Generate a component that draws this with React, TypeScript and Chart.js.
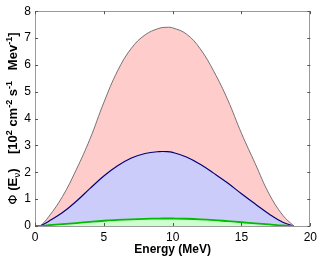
import React, { useEffect, useRef } from "react";
import { Chart, registerables } from "chart.js";

Chart.register(...registerables);

const energy = [0, 0.35, 1, 2, 3, 4, 5, 6, 7, 8, 9, 9.6, 10, 11, 12, 13, 14, 15, 16, 17, 18, 18.8];
const redFlux = [0, 0, 0.35, 1.1, 2.1, 3.25, 4.6, 5.78, 6.62, 7.12, 7.36, 7.4, 7.38, 7.15, 6.6, 5.75, 4.7, 3.45, 2.32, 1.2, 0.4, 0];
const blueFlux = [0, 0, 0.18, 0.5, 0.92, 1.4, 1.86, 2.24, 2.53, 2.7, 2.77, 2.77, 2.74, 2.57, 2.3, 1.96, 1.6, 1.2, 0.82, 0.45, 0.14, 0];
const greenFlux = [0, 0, 0.03, 0.07, 0.11, 0.155, 0.195, 0.225, 0.25, 0.267, 0.277, 0.28, 0.279, 0.27, 0.25, 0.22, 0.18, 0.14, 0.1, 0.06, 0.02, 0];
const xTicks = [0, 5, 10, 15, 20];
const yTicks = [0, 1, 2, 3, 4, 5, 6, 7, 8];

const toPoints = (ys: number[]) => energy.map((x, i) => ({ x, y: ys[i] }));

const frame = {
  id: "frame",
  afterDraw(chart: any) {
    const { ctx, chartArea: a, scales } = chart;
    ctx.save();
    ctx.strokeStyle = "#9a9a9a";
    ctx.lineWidth = 1;
    ctx.beginPath();
    ctx.rect(Math.round(a.left) + 0.5, Math.round(a.top) + 0.5, Math.round(a.right - a.left) - 1, Math.round(a.bottom - a.top));
    ctx.stroke();
    ctx.strokeStyle = "#555";
    ctx.beginPath();
    xTicks.forEach((t) => {
      const x = Math.round(scales.x.getPixelForValue(t)) + 0.5;
      ctx.moveTo(x, a.top);
      ctx.lineTo(x, a.top + 3);
      ctx.moveTo(x, a.bottom);
      ctx.lineTo(x, a.bottom - 3);
    });
    yTicks.forEach((t) => {
      const y = Math.round(scales.y.getPixelForValue(t)) + 0.5;
      ctx.moveTo(a.left, y);
      ctx.lineTo(a.left + 3, y);
      ctx.moveTo(a.right, y);
      ctx.lineTo(a.right - 3, y);
    });
    ctx.stroke();

    // x title
    ctx.fillStyle = "#000";
    ctx.font = "bold 12px 'Liberation Sans', Arial, sans-serif";
    ctx.textAlign = "center";
    ctx.textBaseline = "alphabetic";
    ctx.fillText("Energy (MeV)", (a.left + a.right) / 2, 253);

    // y title (rich text, rotated)
    const B = "bold 13px 'Liberation Sans', Arial, sans-serif";
    const S = "bold 9px 'Liberation Sans', Arial, sans-serif";
    const parts: [string, string, number][] = [
      ["Φ", "13px 'DejaVu Sans', sans-serif", 0],
      [" (E", B, 0],
      ["ν", "9px 'DejaVu Sans', sans-serif", 3],
      [")    [10", B, 0],
      ["2", S, -5],
      [" cm", B, 0],
      ["-2", S, -5],
      [" s", B, 0],
      ["-1", S, -5],
      ["   Mev", B, 0],
      ["-1", S, -5],
      ["]", B, 0],
    ];
    let total = 0;
    parts.forEach(([t, f]) => {
      ctx.font = f;
      total += ctx.measureText(t).width;
    });
    ctx.translate(17, (a.top + a.bottom) / 2);
    ctx.rotate(-Math.PI / 2);
    ctx.textAlign = "left";
    let cx = -total / 2;
    parts.forEach(([t, f, dy]) => {
      ctx.font = f;
      ctx.fillText(t, cx, dy);
      cx += ctx.measureText(t).width;
    });
    ctx.restore();
  },
};

export default function App() {
  const ref = useRef<HTMLCanvasElement>(null);
  useEffect(() => {
    if (!ref.current) return;
    const common = { fill: "origin", pointRadius: 0, tension: 0.4 };
    const chart = new Chart(ref.current, {
      type: "line",
      data: {
        datasets: [
          { ...common, data: toPoints(redFlux), borderColor: "#555555", borderWidth: 0.8, backgroundColor: "#ffcccc", order: 3 },
          { ...common, data: toPoints(blueFlux), borderColor: "#00007a", borderWidth: 1.2, backgroundColor: "#ccccfa", order: 2 },
          { ...common, data: toPoints(greenFlux), borderColor: "#00bb00", borderWidth: 1.8, backgroundColor: "#ccffcc", order: 1 },
        ] as any,
      },
      options: {
        animation: false,
        responsive: false,
        layout: { padding: { top: 6, right: 7, left: 0, bottom: 0 } },
        plugins: { legend: { display: false }, tooltip: { enabled: false } },
        scales: {
          x: {
            type: "linear",
            min: 0,
            max: 20,
            afterFit: (s: any) => { s.height = 30; },
            afterBuildTicks: (s: any) => { s.ticks = xTicks.map((v) => ({ value: v })); },
            grid: { display: false, drawTicks: false },
            border: { display: false },
            ticks: { color: "#000", padding: 4, font: { size: 12, family: "'Liberation Sans', Arial, sans-serif" } },
          },
          y: {
            type: "linear",
            min: 0,
            max: 8,
            afterFit: (s: any) => { s.width = 35; },
            afterBuildTicks: (s: any) => { s.ticks = yTicks.map((v) => ({ value: v })); },
            grid: { display: false, drawTicks: false },
            border: { display: false },
            ticks: { color: "#000", padding: 4, font: { size: 12, family: "'Liberation Sans', Arial, sans-serif" } },
          },
        },
      },
      plugins: [frame],
    });
    return () => chart.destroy();
  }, []);
  return (
    <div style={{ position: "absolute", left: 0, top: 0, width: 321, height: 256, background: "#fff" }}>
      <canvas ref={ref} width={321} height={256} />
    </div>
  );
}
